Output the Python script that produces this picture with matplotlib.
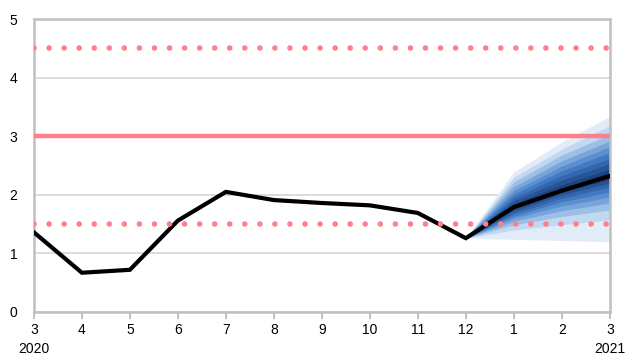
import matplotlib
matplotlib.use("Agg")
import matplotlib.pyplot as plt

plt.rcParams['font.family'] = ['Liberation Sans', 'DejaVu Sans']

# monthly observations, 2020-03 .. 2021-03
month_labels = ['3', '4', '5', '6', '7', '8', '9', '10', '11', '12', '1', '2', '3']
year_labels = {0: '2020', 12: '2021'}
actual = [1.36, 0.67, 0.72, 1.56, 2.05, 1.91, 1.86, 1.82, 1.69, 1.26, 1.79, 2.07, 2.32]

# fan chart bands (months 12, 1, 2, 3), outer -> inner
fan_x = [9, 10, 11, 12]
fan_upper = [
    [1.26, 2.39, 2.90, 3.34],
    [1.26, 2.30, 2.78, 3.18],
    [1.26, 2.22, 2.68, 3.03],
    [1.26, 2.14, 2.58, 2.92],
    [1.26, 2.07, 2.49, 2.82],
    [1.26, 2.01, 2.41, 2.72],
    [1.26, 1.95, 2.33, 2.62],
    [1.26, 1.90, 2.25, 2.53],
    [1.26, 1.85, 2.17, 2.44],
    [1.26, 1.82, 2.12, 2.38],
]
fan_lower = [
    [1.26, 1.24, 1.22, 1.20],
    [1.26, 1.40, 1.49, 1.57],
    [1.26, 1.49, 1.63, 1.74],
    [1.26, 1.55, 1.73, 1.86],
    [1.26, 1.60, 1.81, 1.96],
    [1.26, 1.64, 1.88, 2.05],
    [1.26, 1.68, 1.94, 2.13],
    [1.26, 1.72, 2.00, 2.20],
    [1.26, 1.75, 2.04, 2.26],
    [1.26, 1.77, 2.07, 2.29],
]
fan_colors = ['#e2ecf8', '#c2d7f0', '#9cbfe6', '#78a6db', '#5a8fd0',
              '#4379c0', '#3366ad', '#265497', '#1c437d', '#143463']

target = 3.0
band_low, band_high = 1.5, 4.5

pink = '#ff7f88'
grey = '#c0c0c0'

fig = plt.figure(figsize=(6.28, 3.56), dpi=100)
ax = fig.add_axes([0.054, 0.1236, 0.917, 0.823])

x = list(range(len(actual)))

for i in range(len(fan_upper)):
    ax.fill_between(fan_x, fan_lower[i], fan_upper[i], color=fan_colors[i], lw=0, zorder=2)

ax.plot(x, actual, color='black', lw=3, solid_joinstyle='miter', zorder=3)

ax.axhline(target, color=pink, lw=3.2, zorder=4)
for v in (band_low, band_high):
    ax.axhline(v, color=pink, lw=4, linestyle=(0, (0.01, 2.7)),
               dash_capstyle='round', zorder=4)

ax.set_xlim(0, 12)
ax.set_ylim(0, 5)
ax.set_yticks([0, 1, 2, 3, 4, 5])
ax.grid(axis='y', color='#dcdcdc', lw=1.4, zorder=0)
ax.set_axisbelow(True)

labels = []
for i, m in enumerate(month_labels):
    labels.append(m + '\n' + year_labels[i] if i in year_labels else m)
ax.set_xticks(x)
ax.set_xticklabels(labels, linespacing=1.45)

ax.tick_params(axis='x', length=5, width=1.4, color=grey, labelsize=10, pad=3)
ax.tick_params(axis='y', length=0, labelsize=10, pad=12)

for s in ax.spines.values():
    s.set_color(grey)
    s.set_linewidth(1.8)

fig.savefig('out.png', dpi=100)
